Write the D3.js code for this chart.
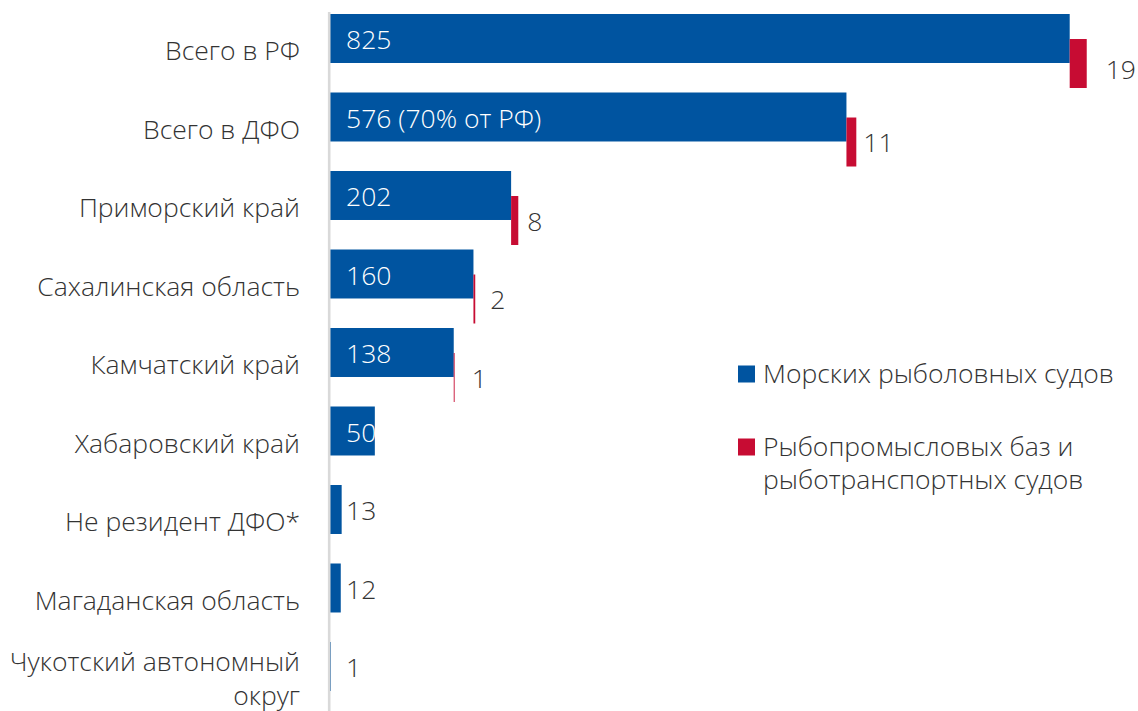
<!DOCTYPE html>
<html>
<head>
<meta charset="utf-8">
<script src="https://cdn.jsdelivr.net/npm/d3@7"></script>
<style>
  html, body { margin: 0; padding: 0; background: #fff; }
  svg { display: block; font-family: 'Open Sans', sans-serif; font-weight: 300; }
</style>
</head>
<body>
<div id="chartarea"></div>
<script>
const categories = [
    ['Всего в РФ'],
    ['Всего в ДФО'],
    ['Приморский край'],
    ['Сахалинская область'],
    ['Камчатский край'],
    ['Хабаровский край'],
    ['Не резидент ДФО*'],
    ['Магаданская область'],
    ['Чукотский автономный', 'округ']
];
const vessels = [825, 576, 202, 160, 138, 50, 13, 12, 1];
const vesselLabels = ['825', '576 (70% от РФ)', '202', '160', '138', '50', '13', '12', '1'];
const bases = [19, 11, 8, 2, 1, 0, 0, 0, 0];
const seriesNames = [['Морских рыболовных судов'], ['Рыбопромысловых баз и', 'рыботранспортных судов']];
const seriesColors = ['#0054a0', '#c70c33'];

const width = 1138;
const height = 711;
const x0 = 330;
const fontSize = '26.5px';

const svg = d3.select('#chartarea')
    .append('svg')
        .attr('width', width)
        .attr('height', height);

const keys = categories.map((c, i) => i);

const y = d3.scaleBand()
    .domain(keys)
    .range([12, 718])
    .paddingInner(0.0573)
    .paddingOuter(0.0255);

const x = d3.scaleLinear()
    .domain([0, 825])
    .range([x0, 1069.7]);

const bw = y.bandwidth();
const barH = bw * 0.662;
const redOff = bw * 0.338;

// category labels
const catText = svg.selectAll('.cat')
    .data(categories)
    .enter()
    .append('text')
        .attr('class', 'cat')
        .attr('text-anchor', 'end')
        .attr('font-size', fontSize)
        .attr('fill', '#333');

catText.each(function(lines, i) {
    const cy = y(i) + bw / 2;
    const lh = 34;
    lines.forEach((ln, j) => {
        d3.select(this).append('tspan')
            .attr('x', 300)
            .attr('y', cy + (j - (lines.length - 1) / 2) * lh)
            .attr('dy', '0.35em')
            .text(ln);
    });
});

// blue bars
svg.selectAll('.blue')
    .data(vessels)
    .enter()
    .append('rect')
        .attr('class', 'blue')
        .attr('x', x(0))
        .attr('y', (d, i) => y(i))
        .attr('width', d => x(d) - x(0))
        .attr('height', barH)
        .attr('fill', seriesColors[0]);

// red bars, starting where blue ends
svg.selectAll('.red')
    .data(bases)
    .enter()
    .filter(d => d > 0)
    .append('rect')
        .attr('class', 'red')
        .attr('x', (d, i) => x(vessels[i]))
        .attr('y', (d, i) => y(i) + redOff)
        .attr('width', (d, i) => x(vessels[i] + d) - x(vessels[i]))
        .attr('height', barH)
        .attr('fill', seriesColors[1]);

// axis line on top
svg.append('line')
    .attr('x1', x0 - 0.8).attr('x2', x0 - 0.8)
    .attr('y1', 12).attr('y2', height)
    .attr('stroke', '#d9d9d9')
    .attr('stroke-width', 2.6);

// blue labels
svg.selectAll('.bluelabel')
    .data(vessels)
    .enter()
    .append('text')
        .attr('x', x0 + 16)
        .attr('y', (d, i) => y(i) + barH / 2 + 1.5)
        .attr('dy', '0.35em')
        .attr('font-size', fontSize)
        .attr('fill', d => x(d) - x0 > 40 ? '#fff' : '#333')
        .text((d, i) => vesselLabels[i]);

// red labels
const redGap = [19, 7, 9, 15, 17];
const redShift = [6, 1, 1, 1, 1];
svg.selectAll('.redlabel')
    .data(bases)
    .enter()
    .filter(d => d > 0)
    .append('text')
        .attr('x', (d, i) => x(vessels[i] + d) + redGap[i])
        .attr('y', (d, i) => y(i) + redOff + barH / 2 + redShift[i])
        .attr('dy', '0.35em')
        .attr('font-size', fontSize)
        .attr('fill', '#333')
        .text(d => d);

// legend
const legendY = [374, 447];
const legend = svg.selectAll('.legend')
    .data(seriesNames)
    .enter()
    .append('g')
        .attr('transform', (d, i) => `translate(738, ${legendY[i]})`);

legend.append('rect')
    .attr('x', 0)
    .attr('y', -8.5)
    .attr('width', 17)
    .attr('height', 17)
    .attr('fill', (d, i) => seriesColors[i]);

legend.each(function(lines) {
    lines.forEach((ln, j) => {
        d3.select(this).append('text')
            .attr('x', 25)
            .attr('y', j * 33)
            .attr('dy', '0.35em')
            .attr('font-size', fontSize)
            .attr('fill', '#333')
            .text(ln);
    });
});
</script>
</body>
</html>
